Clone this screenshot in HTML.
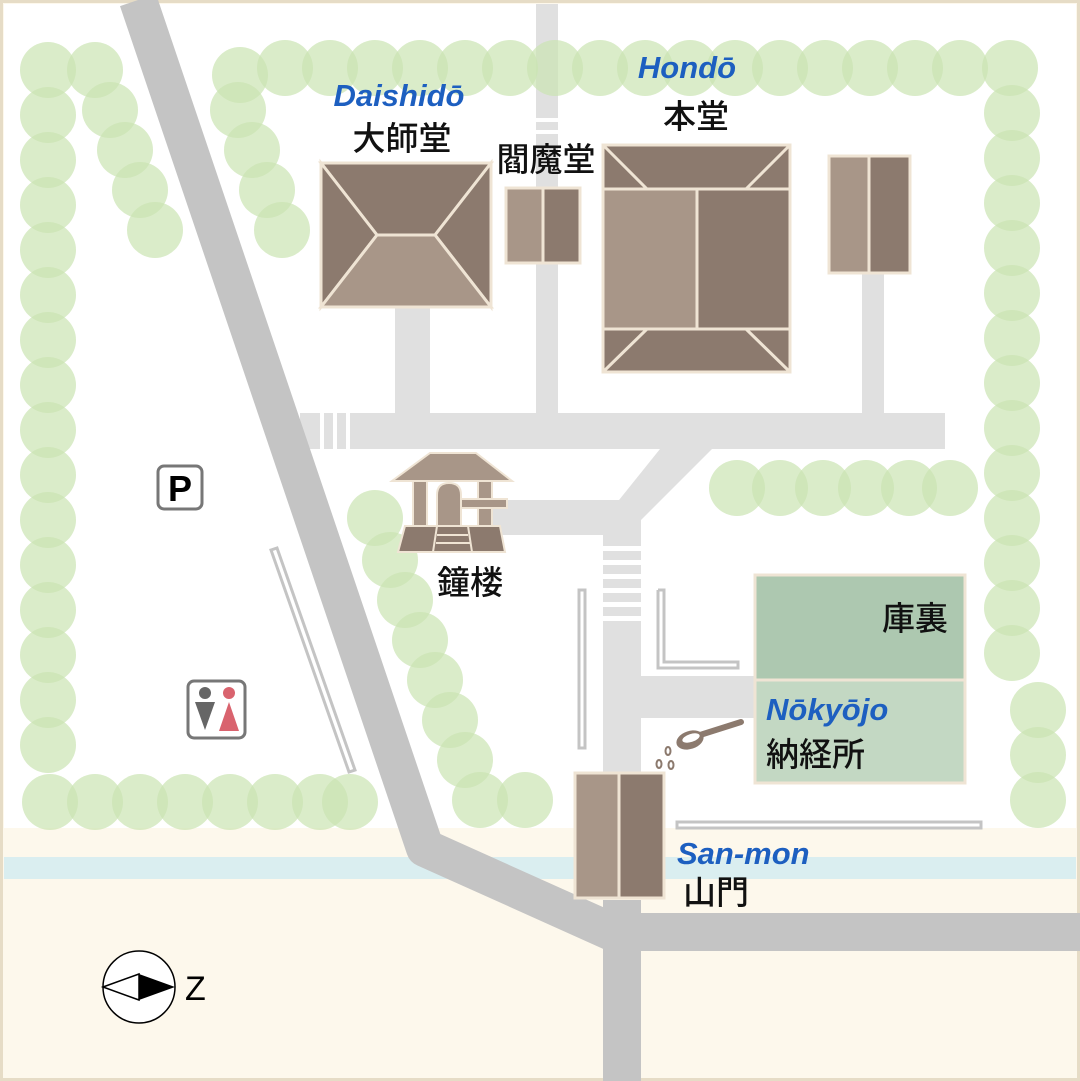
<!DOCTYPE html>
<html><head><meta charset="utf-8"><style>
html,body{margin:0;padding:0;background:#fdf8ec}
svg{display:block}
.jp{font-family:"Liberation Sans","Noto Sans CJK JP",sans-serif;font-size:33px;font-weight:500;fill:#111}
.en{font-family:"Liberation Sans",sans-serif;font-size:31px;font-weight:bold;font-style:italic;fill:#1d5fc0}
</style></head><body>
<svg width="1080" height="1081" viewBox="0 0 1080 1081" xmlns="http://www.w3.org/2000/svg">
<rect x="0" y="0" width="1080" height="1081" fill="#fdf8ec"/>
<rect x="1.5" y="1.5" width="1077" height="1078" fill="none" stroke="#e6dcc6" stroke-width="3"/>
<rect x="4" y="4" width="1072" height="824" fill="#fff"/>
<rect x="4" y="857" width="1072" height="22" fill="#daeef0"/>

<g fill="#e0e0e0">
<rect x="300" y="413" width="645" height="36"/>
<rect x="536" y="4" width="22" height="410"/>
<rect x="395" y="300" width="35" height="114"/>
<rect x="862" y="270" width="22" height="144"/>
<polygon points="660,449 712,449 641,520 603,520"/>
<rect x="603" y="500" width="38" height="290"/>
<rect x="480" y="500" width="150" height="35"/>
<rect x="641" y="676" width="114" height="42"/>
</g>
<g fill="#fff">
<rect x="536" y="118" width="22" height="4"/><rect x="536" y="130" width="22" height="4"/>
<rect x="676" y="378" width="38" height="5"/><rect x="676" y="390" width="38" height="5"/><rect x="676" y="402" width="38" height="5"/>
<rect x="320" y="413" width="4" height="36"/><rect x="333" y="413" width="4" height="36"/><rect x="346" y="413" width="4" height="36"/>
<rect x="603" y="546" width="38" height="5"/><rect x="603" y="560" width="38" height="5"/><rect x="603" y="574" width="38" height="5"/><rect x="603" y="588" width="38" height="5"/><rect x="603" y="602" width="38" height="5"/><rect x="603" y="616" width="38" height="5"/>
</g>
<g fill="none" stroke="#c4c4c4" stroke-width="3">
<rect x="579" y="590" width="6" height="158"/>
<polyline points="658,590 658,668 738,668 738,662 664,662 664,590 658,590"/>
<rect x="677" y="822" width="304" height="6"/>
<polygon points="271,550 277,548 355,770 349,772"/>
</g>

<g fill="#cbe4b2" fill-opacity="0.7">
<circle cx="48" cy="70" r="28"/><circle cx="48" cy="115" r="28"/><circle cx="48" cy="160" r="28"/><circle cx="48" cy="205" r="28"/><circle cx="48" cy="250" r="28"/><circle cx="48" cy="295" r="28"/><circle cx="48" cy="340" r="28"/><circle cx="48" cy="385" r="28"/><circle cx="48" cy="430" r="28"/><circle cx="48" cy="475" r="28"/><circle cx="48" cy="520" r="28"/><circle cx="48" cy="565" r="28"/><circle cx="48" cy="610" r="28"/><circle cx="48" cy="655" r="28"/><circle cx="48" cy="700" r="28"/><circle cx="48" cy="745" r="28"/>
<circle cx="95" cy="70" r="28"/><circle cx="110" cy="110" r="28"/><circle cx="125" cy="150" r="28"/><circle cx="140" cy="190" r="28"/><circle cx="155" cy="230" r="28"/>
<circle cx="240" cy="75" r="28"/><circle cx="238" cy="110" r="28"/><circle cx="252" cy="150" r="28"/><circle cx="267" cy="190" r="28"/><circle cx="282" cy="230" r="28"/>
<circle cx="285" cy="68" r="28"/><circle cx="330" cy="68" r="28"/><circle cx="375" cy="68" r="28"/><circle cx="420" cy="68" r="28"/><circle cx="465" cy="68" r="28"/><circle cx="510" cy="68" r="28"/><circle cx="555" cy="68" r="28"/><circle cx="600" cy="68" r="28"/><circle cx="645" cy="68" r="28"/><circle cx="690" cy="68" r="28"/><circle cx="735" cy="68" r="28"/><circle cx="780" cy="68" r="28"/><circle cx="825" cy="68" r="28"/><circle cx="870" cy="68" r="28"/><circle cx="915" cy="68" r="28"/><circle cx="960" cy="68" r="28"/><circle cx="1010" cy="68" r="28"/>
<circle cx="1012" cy="113" r="28"/><circle cx="1012" cy="158" r="28"/><circle cx="1012" cy="203" r="28"/><circle cx="1012" cy="248" r="28"/><circle cx="1012" cy="293" r="28"/><circle cx="1012" cy="338" r="28"/><circle cx="1012" cy="383" r="28"/><circle cx="1012" cy="428" r="28"/><circle cx="1012" cy="473" r="28"/><circle cx="1012" cy="518" r="28"/><circle cx="1012" cy="563" r="28"/><circle cx="1012" cy="608" r="28"/><circle cx="1012" cy="653" r="28"/>
<circle cx="1038" cy="710" r="28"/><circle cx="1038" cy="755" r="28"/><circle cx="1038" cy="800" r="28"/>
<circle cx="50" cy="802" r="28"/><circle cx="95" cy="802" r="28"/><circle cx="140" cy="802" r="28"/><circle cx="185" cy="802" r="28"/><circle cx="230" cy="802" r="28"/><circle cx="275" cy="802" r="28"/><circle cx="320" cy="802" r="28"/><circle cx="350" cy="802" r="28"/>
<circle cx="737" cy="488" r="28"/><circle cx="780" cy="488" r="28"/><circle cx="823" cy="488" r="28"/><circle cx="866" cy="488" r="28"/><circle cx="909" cy="488" r="28"/><circle cx="950" cy="488" r="28"/>
<circle cx="375" cy="518" r="28"/><circle cx="390" cy="560" r="28"/><circle cx="405" cy="600" r="28"/><circle cx="420" cy="640" r="28"/><circle cx="435" cy="680" r="28"/><circle cx="450" cy="720" r="28"/><circle cx="465" cy="760" r="28"/><circle cx="480" cy="800" r="28"/><circle cx="525" cy="800" r="28"/>
</g>

<polyline points="138,0 425,848 612,932 1080,932" fill="none" stroke="#c4c4c4" stroke-width="38" stroke-linejoin="round"/>
<rect x="603" y="900" width="38" height="181" fill="#c4c4c4"/>

<g stroke="#efe4d4" stroke-width="3">
<rect x="321" y="163" width="170" height="144" fill="#a89688"/>
<polygon points="321,163 491,163 435,235 377,235" fill="#8c7a6e"/>
<polygon points="321,163 377,235 321,307" fill="#8c7a6e"/>
<polygon points="491,163 435,235 491,307" fill="#8c7a6e"/>
<polygon points="321,307 377,235 435,235 491,307" fill="#a89688"/>
<rect x="506" y="188" width="37" height="75" fill="#a89688"/><rect x="543" y="188" width="37" height="75" fill="#8c7a6e"/>
<rect x="603" y="145" width="187" height="227" fill="#8c7a6e"/>
<rect x="603" y="189" width="94" height="140" fill="#a89688"/>
<rect x="697" y="189" width="93" height="140" fill="#8c7a6e"/>
<line x1="603" y1="145" x2="647" y2="189"/><line x1="790" y1="145" x2="746" y2="189"/>
<line x1="603" y1="372" x2="647" y2="329"/><line x1="790" y1="372" x2="746" y2="329"/>
<rect x="829" y="156" width="40" height="117" fill="#a89688"/><rect x="869" y="156" width="41" height="117" fill="#8c7a6e"/>
<rect x="575" y="773" width="44" height="125" fill="#a89688"/><rect x="619" y="773" width="45" height="125" fill="#8c7a6e"/>
<rect x="755" y="575" width="210" height="105" fill="#adc8b0"/>
<rect x="755" y="680" width="210" height="103" fill="#c3d8c3"/>
</g>

<g stroke="#efe4d4" stroke-width="2">
<polygon points="430,453 476,453 512,481 392,481" fill="#a89688"/>
<rect x="413" y="481" width="14" height="45" fill="#a89688"/>
<rect x="478" y="481" width="14" height="45" fill="#a89688"/>
<path d="M437,526 V495 Q437,483 449,483 Q461,483 461,495 V526 Z" fill="#a89688"/>
<rect x="461" y="499" width="46" height="9" fill="#a89688"/>
<polygon points="405,526 500,526 505,552 398,552" fill="#8c7a6e"/>
<line x1="437" y1="526" x2="433" y2="552"/><line x1="468" y1="526" x2="472" y2="552"/>
<line x1="437" y1="535" x2="468" y2="535"/><line x1="436" y1="543" x2="470" y2="543"/>
</g>

<g fill="#8c7a6e">
<line x1="700" y1="735" x2="741" y2="722" stroke="#8c7a6e" stroke-width="6" stroke-linecap="round"/>
<ellipse cx="690" cy="740" rx="14" ry="9" transform="rotate(-18 690 740)"/>
<ellipse cx="691" cy="738" rx="9" ry="4" fill="#fff" transform="rotate(-18 691 738)"/>
<ellipse cx="668" cy="751" rx="2.5" ry="4" fill="none" stroke="#8c7a6e" stroke-width="2"/>
<ellipse cx="659" cy="764" rx="2.5" ry="4" fill="none" stroke="#8c7a6e" stroke-width="2"/>
<ellipse cx="671" cy="765" rx="2.5" ry="4" fill="none" stroke="#8c7a6e" stroke-width="2"/>
</g>

<rect x="158" y="466" width="44" height="43" rx="6" fill="#fff" stroke="#777" stroke-width="3"/>
<text x="180" y="501" text-anchor="middle" font-family="Liberation Sans,sans-serif" font-weight="bold" font-size="36" fill="#000">P</text>
<rect x="188" y="681" width="57" height="57" rx="6" fill="#fff" stroke="#777" stroke-width="3"/>
<circle cx="205" cy="693" r="6" fill="#666"/><polygon points="195,702 215,702 205,730" fill="#666"/>
<circle cx="229" cy="693" r="6" fill="#d9636e"/><polygon points="229,702 219,731 239,731" fill="#d9636e"/>
<ellipse cx="139" cy="987" rx="36" ry="36" fill="#fff" stroke="#000" stroke-width="1.5"/>
<polygon points="103,987 139,974 139,1000" fill="#fff" stroke="#000" stroke-width="1.5"/>
<polygon points="139,974 175,987 139,1000" fill="#000"/>
<text x="185" y="1000" font-family="Liberation Sans,sans-serif" font-size="34" fill="#000">Z</text>

<text class="en" x="399" y="106" text-anchor="middle">Daishidō</text>
<text class="jp" x="402" y="150" text-anchor="middle">大師堂</text>
<text class="jp" x="546" y="171" text-anchor="middle">閻魔堂</text>
<text class="en" x="687" y="78" text-anchor="middle">Hondō</text>
<text class="jp" x="696" y="128" text-anchor="middle">本堂</text>
<text class="jp" x="470" y="594" text-anchor="middle">鐘楼</text>
<text class="jp" x="948" y="630" text-anchor="end">庫裏</text>
<text class="en" x="766" y="720">Nōkyōjo</text>
<text class="jp" x="766" y="766">納経所</text>
<text class="en" x="677" y="864">San-mon</text>
<text class="jp" x="683" y="904">山門</text>
</svg>
</body></html>
